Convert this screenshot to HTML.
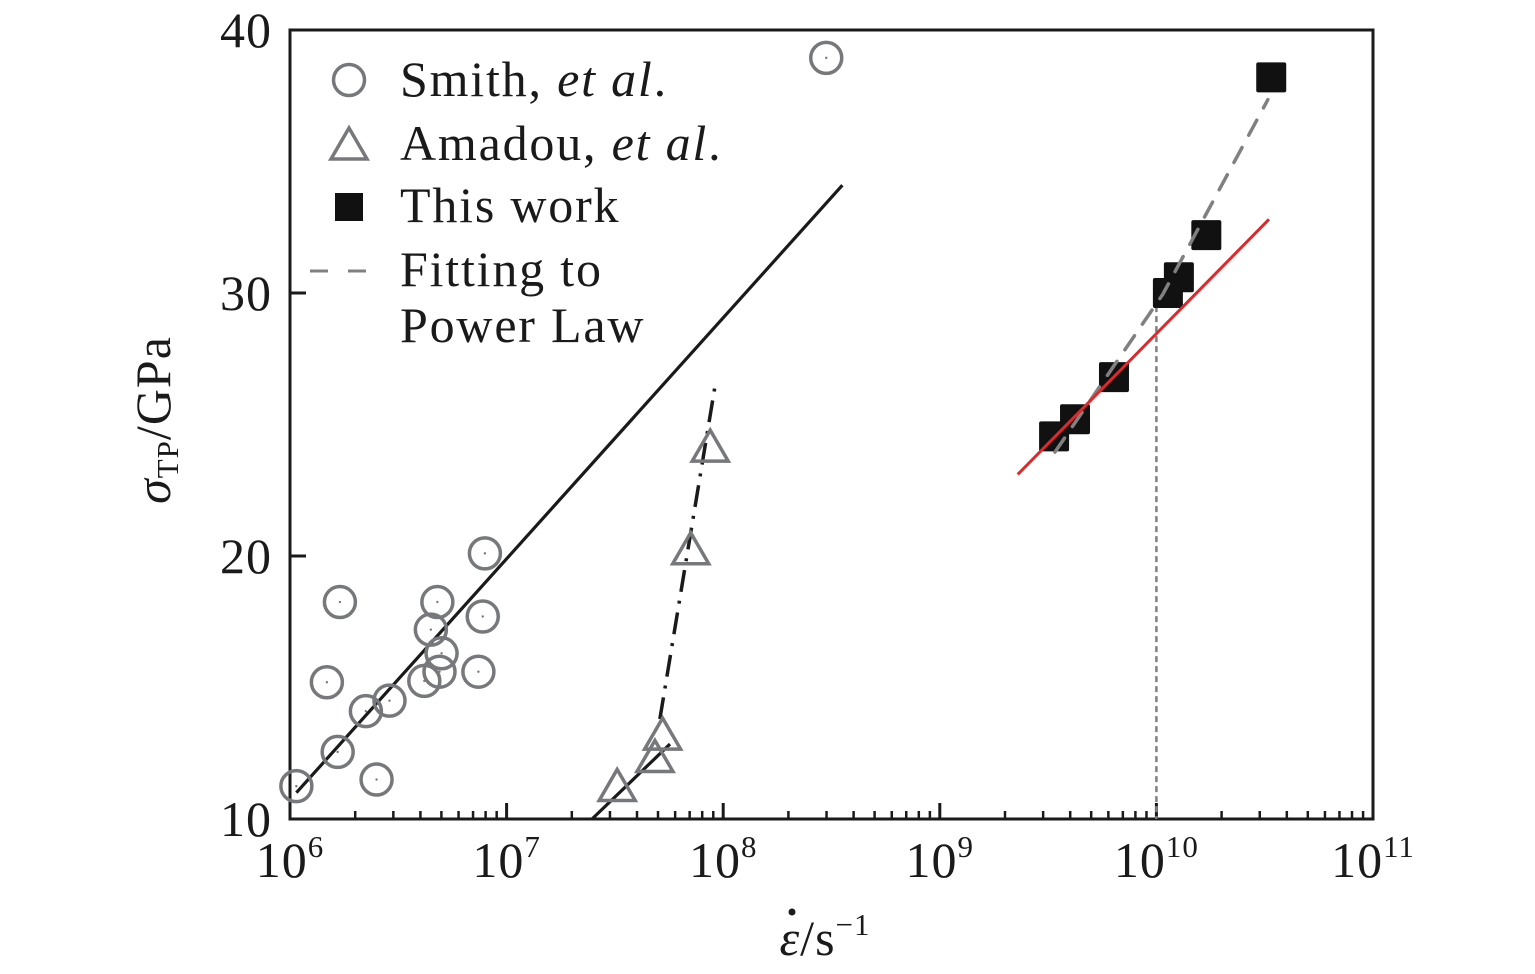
<!DOCTYPE html>
<html><head><meta charset="utf-8"><style>
html,body{margin:0;padding:0;background:#fff;}
svg{display:block;font-family:"Liberation Serif",serif;}
</style></head><body>
<svg id="chart" width="1535" height="974" xmlns="http://www.w3.org/2000/svg">
<g id="plot"></g>
</svg>
<script>
const xTicksExp = [6,7,8,9,10,11];
const yTicks = [10,20,30,40];
const smithX = [1.07e6,1.66e6,2.51e6,1.48e6,1.70e6,2.24e6,2.88e6,4.17e6,4.90e6,5.01e6,4.47e6,4.79e6,7.41e6,7.76e6,7.94e6,2.99e8];
const smithY = [11.25,12.55,11.5,15.2,18.25,14.1,14.5,15.25,15.6,16.3,17.2,18.25,15.6,17.7,20.1,38.94];
const amadouX = [3.24e7,4.84e7,5.25e7,7.08e7,8.71e7];
const amadouY = [11.2,12.3,13.15,20.2,24.1];
const workX = [3.37e9,4.21e9,6.37e9,1.13e10,1.27e10,1.70e10,3.39e10];
const workY = [24.55,25.2,26.8,30.0,30.6,32.2,38.2];
const smithFitX = [1.07e6,3.55e8], smithFitY = [11.0,34.1];
const amadouFit1X = [2.48e7,5.68e7], amadouFit1Y = [10,12.85];
const amadouFit2X = [5.1e7,9.27e7], amadouFit2Y = [13.8,26.7];
const powerX = [3.40e9,1.07e10,3.27e10], powerY = [23.95,29.95,37.35];
const redX = [2.29e9,3.31e10], redY = [23.1,32.8];
const vlineX = 1e10;

const X0=290,X1=1373,Y0=819,Y1=30;
const sx=v=>X0+(Math.log10(v)-6)/5*(X1-X0);
const sy=v=>Y0-(v-10)/30*(Y0-Y1);
const NS='http://www.w3.org/2000/svg';
const svg=document.getElementById('chart');
function mk(tag,attrs,parent){const e=document.createElementNS(NS,tag);for(const k in attrs)e.setAttribute(k,attrs[k]);(parent||svg).appendChild(e);return e;}

let f=mk('rect',{x:X0,y:Y1,width:X1-X0,height:Y0-Y1,fill:'none',stroke:'#1a1a1a','stroke-width':3});



for(let d=6;d<=11;d++){
  let t=mk('line',{x1:sx(Math.pow(10,d)),x2:sx(Math.pow(10,d)),y1:Y0,y2:Y0-16,stroke:'#1a1a1a','stroke-width':3});
  
  
  if(d<11)for(let m=2;m<=9;m++){
    let u=mk('line',{x1:sx(m*Math.pow(10,d)),x2:sx(m*Math.pow(10,d)),y1:Y0,y2:Y0-8,stroke:'#1a1a1a','stroke-width':2.5});
    
    
  }
}
xTicksExp.forEach(e=>{
  let t=mk('text',{x:sx(Math.pow(10,e)),y:877,'font-size':50,'text-anchor':'middle',fill:'#1a1a1a','letter-spacing':1});
  t.innerHTML='10<tspan dy="-20" font-size="31">'+e+'</tspan>';
  
  
});
yTicks.forEach(v=>{
  if(v>10&&v<40){let t=mk('line',{x1:X0,x2:X0+16,y1:sy(v),y2:sy(v),stroke:'#1a1a1a','stroke-width':3});
  
  }
  let l=mk('text',{x:272,y:sy(v)+17,'font-size':50,'text-anchor':'end',fill:'#1a1a1a','letter-spacing':1});
  l.textContent=v;
  
  
});

let yt=mk('text',{x:0,y:0,'font-size':50,'text-anchor':'middle',fill:'#1a1a1a','letter-spacing':1,transform:'translate(170,420) rotate(-90)'});
yt.innerHTML='<tspan font-style="italic">σ</tspan><tspan font-size="31" dy="8">TP</tspan><tspan dy="-8">/GPa</tspan>';


let xt=mk('text',{x:825,y:955,'font-size':50,'text-anchor':'middle',fill:'#1a1a1a','letter-spacing':1});
xt.innerHTML='<tspan font-style="italic">ε</tspan>/s<tspan font-size="31" dy="-20">−1</tspan>';


let xd=mk('circle',{cx:792,cy:912,r:3.5,fill:'#1a1a1a'});



function line(xs,ys,attrs,name){
  const pts=xs.map((x,i)=>sx(x)+','+sy(ys[i])).join(' ');
  const a=Object.assign({points:pts,fill:'none'},attrs);
  let p=mk('polyline',a);
  
  
}
line(smithFitX,smithFitY,{stroke:'#1a1a1a','stroke-width':3.2},'smith-fit-line');
line(amadouFit1X,amadouFit1Y,{stroke:'#1a1a1a','stroke-width':3.2},'amadou-fit-line-low');
line(amadouFit2X,amadouFit2Y,{stroke:'#1a1a1a','stroke-width':3.5,'stroke-dasharray':'22 9 3 9'},'amadou-fit-line-high');
let vl=mk('line',{x1:sx(vlineX),x2:sx(vlineX),y1:sy(29.5),y2:Y0,stroke:'#808080','stroke-width':2.5,'stroke-dasharray':'6 4'});



smithX.forEach((x,i)=>{
  let c=mk('circle',{cx:sx(x),cy:sy(smithY[i]),r:15.5,fill:'none',stroke:'#77787b','stroke-width':3.5});
  
  
  mk('circle',{cx:sx(x),cy:sy(smithY[i]),r:1.2,fill:'#77787b'});
});
amadouX.forEach((x,i)=>{
  const cx=sx(x),cy=sy(amadouY[i]);
  let t=mk('polygon',{points:`${cx},${cy-18} ${cx-18},${cy+13} ${cx+18},${cy+13}`,fill:'none',stroke:'#77787b','stroke-width':3.5});
  
  
});
workX.forEach((x,i)=>{
  let s=mk('rect',{x:sx(x)-15,y:sy(workY[i])-15,width:30,height:30,rx:2,fill:'#111'});
  
  
});
line(powerX,powerY,{stroke:'#808080','stroke-width':3.5,'stroke-dasharray':'17 14','stroke-linecap':'round'},'power-law-fit-line');
line(redX,redY,{stroke:'#e0282a','stroke-width':3},'linear-fit-line');

const lg=mk('g',{});


let c1=mk('circle',{cx:349,cy:80,r:15.5,fill:'none',stroke:'#77787b','stroke-width':3.5},lg);


let t1=mk('polygon',{points:'349,128 331,159 367,159',fill:'none',stroke:'#77787b','stroke-width':3.5},lg);


let s1=mk('rect',{x:335,y:193,width:28,height:28,fill:'#111'},lg);


let d1=mk('line',{x1:310,x2:382,y1:271,y2:271,stroke:'#808080','stroke-width':3,'stroke-dasharray':'18 20'},lg);


const labels=[['Smith, <tspan font-style="italic">et al</tspan>.',96],['Amadou, <tspan font-style="italic">et al</tspan>.',160],['This work',222],['Fitting to',286],['Power Law',342]];
labels.forEach(l=>{
  let t=mk('text',{x:400,y:l[1],'font-size':50,fill:'#1a1a1a','letter-spacing':1.8},lg);
  t.innerHTML=l[0];
  
  
});
</script>
</body></html>
